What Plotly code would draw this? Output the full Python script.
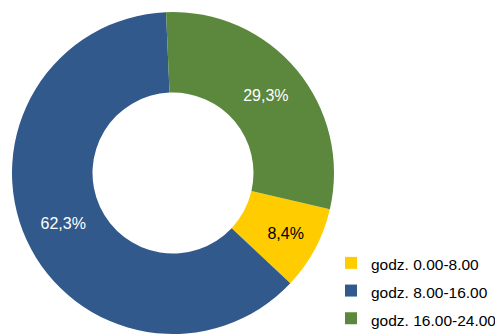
import plotly.graph_objects as go

labels = ["godz. 0.00-8.00", "godz. 8.00-16.00", "godz. 16.00-24.00"]
values = [8.4, 62.3, 29.3]
text_labels = ["8,4%", "62,3%", "29,3%"]
colors = ["#FFCC00", "#31598B", "#5B883D"]
text_colors = ["#000000", "#FFFFFF", "#FFFFFF"]

OFF = 8  # page offset of the figure (body margin)
W, H = 503 - OFF, 334 - OFF  # figure fits the window exactly

# pie centre (figure px) and radius
cx, cy, r = 173 - OFF, 165, 161

# legend text drawn at 15.5px while the legend row height follows a 19px font
legend_labels = ['<span style="font-size:15.5px">%s</span>' % s for s in labels]

fig = go.Figure(
    go.Pie(
        labels=legend_labels,
        values=values,
        text=text_labels,
        textinfo="text",
        textposition="inside",
        insidetextorientation="horizontal",
        insidetextfont=dict(family="Liberation Sans, Arial, sans-serif", size=16, color=text_colors),
        marker=dict(colors=colors, line=dict(width=0)),
        hole=0.5,
        sort=False,
        direction="clockwise",
        rotation=103,
        domain=dict(x=[(cx - r) / W, (cx + r) / W], y=[max(0, (H - cy - r) / H), (H - cy + r) / H]),
        hovertext=labels,
        hoverinfo="text+percent",
    )
)

fig.update_layout(
    width=W,
    height=H,
    margin=dict(l=0, r=0, t=0, b=0, autoexpand=False),
    paper_bgcolor="white",
    plot_bgcolor="white",
    font=dict(family="Liberation Sans, Arial, sans-serif", size=16, color="#000000"),
    showlegend=True,
    legend=dict(
        x=(371 - OFF - 40) / W,
        y=-4 / H,
        xanchor="left",
        yanchor="bottom",
        font=dict(size=19, color="#000000"),
        bgcolor="rgba(0,0,0,0)",
        itemclick=False,
    ),
)

fig.write_html("out.html")
